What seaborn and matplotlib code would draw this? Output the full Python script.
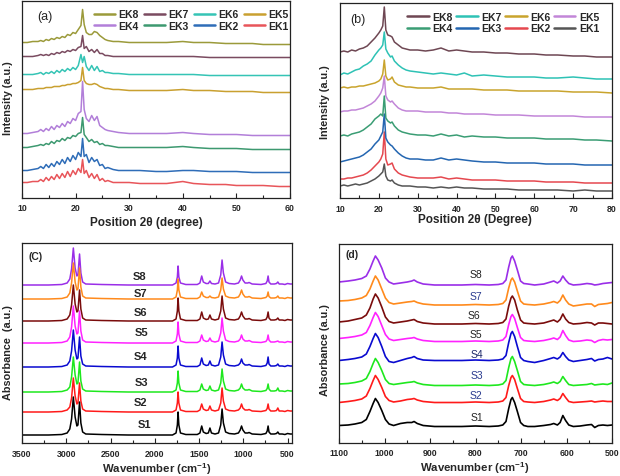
import numpy as np
import pandas as pd
import matplotlib
matplotlib.use("Agg")
import matplotlib.pyplot as plt
import seaborn as sns
from matplotlib.ticker import MultipleLocator
from matplotlib.lines import Line2D

# ---------------- data: panel (a) XRD ----------------
xrd_a_angle = [10, 11, 12, 13, 13.5, 14, 14.5, 15, 15.5, 16, 16.5, 17, 17.5, 18, 18.5, 19, 19.5, 20, 20.5, 21,
               21.3, 21.6, 22, 22.5, 23, 23.5, 24, 24.5, 25, 25.5, 26, 27, 28, 30, 32, 35, 37, 40, 42, 45, 48,
               50, 53, 55, 58, 60]
a_EK1 = [0, 0, 1, 1, 3, 1, 5, 2, 6, 3, 8, 4, 9, 5, 11, 6, 12, 8, 14, 10, 23, 9, 12, 5, 9, 4, 8, 2, 4, 1, 2, 0, 0, 0, -1, -1, -1, 1, -1, -2, -2, -3, -3, -3, -4, -4]
a_EK2 = [0, 0, 1, 2, 4, 2, 6, 3, 7, 4, 9, 6, 11, 7, 13, 9, 15, 11, 18, 14, 32, 14, 16, 8, 13, 9, 11, 5, 6, 2, 3, 1, 0, 0, 0, -1, -1, 0, 0, -1, -1, -1, -2, -2, -2, -2]
a_EK3 = [0, 0, 1, 2, 3, 2, 4, 3, 6, 4, 7, 6, 9, 7, 10, 9, 12, 11, 14, 15, 30, 13, 10, 6, 8, 5, 6, 3, 4, 2, 2, 1, 0, 0, 0, 0, 0, 1, 0, -1, -1, -1, -2, -2, -2, -2]
a_EK4 = [0, 0, 1, 2, 4, 2, 5, 3, 7, 4, 8, 6, 10, 7, 12, 10, 15, 13, 20, 22, 52, 24, 15, 12, 18, 13, 17, 8, 6, 4, 3, 2, 1, 0, 0, 0, 0, 1, 0, -1, -1, -1, -2, -2, -2, -2]
a_EK5 = [0, 0, 0, 1, 1, 1, 2, 2, 2, 3, 3, 3, 4, 4, 5, 5, 6, 6, 7, 9, 22, 9, 6, 5, 5, 6, 5, 3, 2, 1, 1, 0, 0, -1, -1, -1, -1, 0, -1, -1, -2, -2, -2, -3, -3, -3]
a_EK6 = [0, 0, 0, 1, 2, 0, 2, 1, 3, 1, 4, 2, 5, 3, 6, 4, 7, 5, 9, 20, 12, 18, 8, 4, 9, 4, 8, 3, 4, 2, 2, 1, 1, 0, 0, 0, 0, 0, 0, -1, -1, -1, -1, -1, -1, -1]
a_EK7 = [0, 0, 0, 1, 2, 1, 2, 1, 3, 2, 4, 3, 5, 4, 6, 5, 7, 6, 9, 10, 21, 8, 10, 5, 7, 4, 7, 3, 3, 1, 1, 0, 0, 0, 0, 0, 0, 0, 0, -1, -1, -1, -1, -1, -1, -1]
a_EK8 = [0, 0, 1, 1, 2, 1, 3, 2, 4, 3, 5, 4, 6, 5, 8, 7, 10, 9, 13, 17, 33, 18, 10, 8, 8, 11, 10, 7, 5, 3, 2, 1, 1, 0, 0, 0, 0, 1, 0, 0, -1, -1, -1, -2, -2, -2]
a_offsets = [15, 27, 50, 64, 108, 123, 141, 155]

# ---------------- data: panel (b) XRD ----------------
xrd_b_angle = [10, 11, 12, 13, 14, 15, 16, 17, 18, 19, 20, 20.5, 21, 21.4, 21.8, 22.3, 23, 23.4, 24, 25, 26, 27,
               28, 30, 32, 34, 36, 38, 40, 42, 44, 47, 50, 53, 56, 60, 63, 66, 70, 73, 76, 80]
b_EK1 = [0, 1, 0, 1, 2, 1, 2, 3, 5, 7, 10, 12, 14, 22, 10, 6, 5, 6, 3, 1, 0, 0, 0, -1, -1, -2, -1, -2, -1, -2, -2, -3, -3, -3, -4, -4, -4, -4, -5, -4, -5, -5]
b_EK2 = [0, 0, 1, 1, 2, 3, 4, 6, 9, 13, 17, 20, 25, 47, 20, 14, 15, 16, 10, 6, 4, 3, 2, 1, 1, 1, 2, 0, 1, 0, -1, -1, -1, -2, -2, -2, -3, -3, -3, -4, -4, -4]
b_EK3 = [0, 1, 2, 3, 4, 5, 7, 10, 13, 18, 22, 26, 30, 48, 24, 20, 17, 16, 13, 9, 6, 4, 3, 3, 2, 2, 4, 2, 3, 2, 1, 0, 0, -1, -1, -1, -2, -2, -2, -3, -3, -3]
b_EK4 = [0, 1, 0, 2, 3, 4, 6, 9, 12, 17, 20, 22, 20, 40, 18, 15, 13, 14, 10, 6, 4, 3, 2, 1, 1, 0, 2, 0, 1, -1, 0, -1, -1, -2, -2, -2, -3, -3, -3, -4, -4, -5]
b_EK5 = [0, 1, 1, 2, 2, 3, 4, 6, 8, 11, 16, 19, 24, 36, 16, 12, 10, 11, 8, 4, 2, 1, 1, 1, 0, 0, 0, -1, -1, -2, -2, -2, -3, -3, -3, -4, -4, -4, -4, -5, -5, -5]
b_EK6 = [0, 1, 0, 1, 1, 2, 2, 3, 4, 5, 7, 9, 14, 28, 12, 8, 9, 11, 6, 3, 2, 1, 1, 0, 0, 0, 1, -1, -1, -1, -1, -2, -2, -2, -3, -3, -3, -3, -4, -4, -4, -5]
b_EK7 = [0, 2, 1, 3, 5, 6, 9, 11, 14, 20, 25, 27, 30, 43, 26, 22, 18, 19, 14, 10, 7, 5, 4, 3, 2, 1, 2, 1, 0, 2, -1, 0, -1, -2, -2, -2, -3, -3, -2, -3, -4, -4]
b_EK8 = [0, 1, 0, 2, 1, 3, 4, 6, 10, 14, 19, 22, 26, 45, 22, 17, 16, 15, 10, 7, 4, 3, 2, 2, 1, 2, 4, 1, 2, 1, 0, 0, -1, -1, -2, -2, -3, -3, -4, -4, -5, -5]
b_offsets = [12, 19, 36, 62, 86, 110, 123, 146]

# ---------------- data: panel (c) FTIR ----------------
ftir_c_wn = [3500, 3200, 3050, 2990, 2960, 2940, 2920, 2900, 2880, 2868, 2850, 2835, 2815, 2780, 2600, 2300, 2000,
             1800, 1760, 1745, 1737, 1728, 1710, 1650, 1520, 1490, 1470, 1452, 1420, 1395, 1377, 1360, 1320, 1280,
             1255, 1240, 1225, 1200, 1160, 1100, 1055, 1035, 1020, 1005, 980, 950, 935, 900, 800, 745, 730, 720,
             710, 690, 650, 625, 610, 595, 560, 530, 500, 470, 450]
c_S1 = [0, 0, 0.5, 2, 6, 16, 38, 18, 9, 10, 33, 12, 3, 1, 0.5, 0, 0, 0, 2, 10, 23, 10, 2, 0.5, 0.5, 2, 9, 3, 1.5, 2, 7, 2, 1, 2, 10, 26, 12, 3, 1.5, 1, 2, 5, 9, 5, 2, 2, 2.5, 1, 0.5, 1.5, 4, 9, 3, 1, 1, 1.5, 3, 1, 1, 0.5, 1.5, 1, 1]
c_S2 = [0, 0, 0.5, 2, 5, 14, 34, 16, 8, 9, 29, 11, 3, 1, 0.5, 0, 0, 0, 2, 9, 20, 9, 2, 0.5, 0.5, 2, 8, 3, 1.5, 2, 6, 2, 1, 2, 9, 24, 11, 3, 1.5, 1, 2, 4, 8, 4, 2, 2, 2.5, 1, 0.5, 1.5, 3.5, 8, 3, 1, 1, 1.5, 4, 1, 1, 0.5, 1.5, 1, 1]
c_S3 = [0, 0, 0.5, 2, 5, 15, 35, 17, 8, 9, 30, 11, 3, 1, 0.5, 0, 0, 0, 2, 9, 21, 9, 2, 0.5, 0.5, 2, 8, 3, 1.5, 2, 6, 2, 1, 2, 9, 23, 11, 3, 1.5, 1, 2, 4, 8, 4, 2, 2, 2.5, 1, 0.5, 1.5, 3.5, 8, 3, 1, 1, 1.5, 4, 1, 1, 0.5, 1.5, 1, 1]
c_S4 = [0, 0, 0.5, 2, 6, 16, 37, 17, 8, 9, 30, 11, 3, 1, 0.5, 0, 0, 0, 2, 9, 21, 9, 2, 0.5, 0.5, 2, 9, 3, 1.5, 2, 6, 2, 1, 2, 10, 25, 12, 3, 1.5, 1, 2, 4, 8, 4, 2, 2, 2.5, 1, 0.5, 1.5, 4, 10, 3, 1, 1, 1.5, 3, 1, 1, 0.5, 1.5, 1, 1]
c_S5 = [0, 0, 0.5, 2, 6, 16, 37, 17, 9, 10, 32, 12, 3, 1, 0.5, 0, 0, 0, 2, 9, 21, 9, 2, 0.5, 0.5, 2, 8, 3, 1.5, 2, 5, 2, 1, 2, 10, 25, 12, 3, 1.5, 1, 2, 4, 8, 4, 2, 2, 2.5, 1, 0.5, 1.5, 3.5, 8, 3, 1, 1, 1.5, 2, 1, 1, 0.5, 1.5, 1, 1]
c_S6 = [0, 0, 0.5, 2, 6, 16, 36, 17, 9, 10, 31, 12, 3, 1, 0.5, 0, 0, 0, 2, 10, 23, 10, 2, 0.5, 0.5, 2, 9, 3, 1.5, 2, 6, 2, 1, 2, 10, 25, 12, 3, 1.5, 1, 2, 5, 9, 5, 2, 2, 2.5, 1, 0.5, 1.5, 4, 9, 3, 1, 1, 1.5, 3, 1, 1, 0.5, 1.5, 1, 1]
c_S7 = [0, 0, 0.5, 2, 6, 16, 36, 17, 9, 10, 31, 12, 3, 1, 0.5, 0, 0, 0, 2, 9, 20, 9, 2, 0.5, 0.5, 2, 7, 3, 1.5, 1.5, 3, 1.5, 1, 2, 9, 21, 10, 3, 1.5, 1, 2, 5, 9, 5, 2, 2, 2.5, 1, 0.5, 1.5, 3, 7, 2.5, 1, 1, 1.5, 3, 1, 1, 0.5, 1.5, 1, 1]
c_S8 = [0, 0, 0.5, 2, 6, 16, 37, 17, 9, 10, 31, 12, 3, 1, 0.5, 0, 0, 0, 2, 8, 19, 8, 2, 0.5, 0.5, 2, 9, 3, 1.5, 1.5, 4, 1.5, 1, 2, 10, 25, 12, 3, 1.5, 1, 2, 5, 9, 5, 2, 2, 2.5, 1, 0.5, 1.5, 4, 9, 3, 1, 1, 1.5, 3, 1, 1, 0.5, 1.5, 1, 1]
c_offsets = [8, 31, 51, 76, 100, 122, 144, 158]
c_label_wn = [2120, 2165, 2155, 2165, 2150, 2160, 2160, 2170]
c_label_y = [18.5, 41.5, 60.7, 87.3, 111, 130.7, 150, 167.3]

# ---------------- data: panel (d) FTIR detail ----------------
ftir_d_wn = [1100, 1080, 1065, 1050, 1040, 1032, 1025, 1020, 1014, 1006, 998, 990, 980, 965, 950, 940, 935, 928, 915,
             890, 860, 830, 800, 770, 750, 740, 733, 727, 722, 719, 714, 708, 701, 694, 685, 670, 650, 635, 628, 620,
             614, 608, 602, 595, 585, 570, 555, 545, 538, 530, 520, 510, 500]
d_S1 = [1, 1.5, 2.5, 4, 7, 15, 23, 28, 24, 16, 7, 2.5, 1, 3, 4, 4, 5, 3, 1, 0, 0, 0, 0.5, 0, 0.5, 1.5, 5, 18, 27, 29, 24, 15, 4, 1, 0, 0, 1, 2, 3, 1.5, 4, 11, 6, 1.5, 0, 0.5, 1.5, 2, -1, 1, 1.5, 1, 1.5]
d_S2 = [0, 1, 2, 3.5, 6.5, 14, 22, 27, 23, 15, 6, 2, 0.5, 1.5, 3, 3.5, 4, 2.5, 1, 0, 0, 0, 0.5, 0, 0.5, 1.5, 5, 17, 25, 27, 23, 14, 4, 1, 0.5, 0, 1, 2.5, 3.5, 2, 4, 9, 5, 1, 0, 0.5, 1, 1.5, 0.5, 1, 1.5, 1, 1]
d_S3 = [1.5, 2, 3, 4.5, 7, 14, 22, 27, 23, 15, 6, 2, 1, 2, 3, 3.5, 4, 2.5, 1, 0, 0, 0, 0.5, 0, 0.5, 1.5, 5, 18, 27, 29, 24, 15, 4, 1, 0.5, 0, 1, 2.5, 3.5, 2, 4, 9, 5, 1, 0, 0.5, 1, 2, 0.5, 1, 1.5, 1, 2.5]
d_S4 = [0, 1, 2, 3.5, 6.5, 14, 22, 27, 23, 14, 4, -1, -2, 0, 2, 3, 4, 2, 0.5, 0, 0, 0, 0.5, 0, 0.5, 1.5, 5, 18, 27, 29, 24, 14, 3, 0, -1, -2, 0, 2, 3, 1.5, 3.5, 8, 4, 0.5, -1, 0, 1, 2, -0.5, 1, 1.5, 3, 1.5]
d_S5 = [3, 4, 5, 6.5, 9, 16, 24, 29, 25, 16, 7, 2.5, 1, 2, 3, 3.5, 4, 2.5, 1, 0, 0, 0, 0.5, 0, 0.5, 1.5, 5, 17, 25, 27, 23, 14, 4, 1, 0.5, 0, 1, 2.5, 3.5, 2, 4.5, 11, 6, 1.5, 0, 0.5, 1.5, 1, -1, 1, 2, 1.5, 2]
d_S6 = [2, 3, 4.5, 6, 9, 16, 25, 30, 26, 17, 7, 2.5, 1, 2, 3, 4, 4.5, 2.5, 1, 0, 0, 0, 0.5, 0, 0.5, 1.5, 5, 18, 26, 28, 24, 14, 4, 1, 0.5, 0, 1, 3, 4, 2, 4.5, 10, 5, 1.5, 0, 0.5, 1.5, 1, -1, 1, 1, 0.5, 0]
d_S7 = [4, 4.5, 5.5, 7, 9.5, 16, 24, 29, 25, 16, 7, 2.5, 1, 2, 3, 3.5, 4, 2.5, 1, 0, 0, 0, 0.5, 0, 0.5, 1.5, 5, 17, 25, 27, 23, 14, 4, 1, 0.5, 0, 1, 2.5, 3.5, 2, 4.5, 10, 5, 1, -1, 0, 1, 1, -1.5, 0.5, 1, 1.5, 2.5]
d_S8 = [3, 4, 5, 6.5, 9, 16, 24, 29, 25, 17, 7, 3, 1, 2, 3, 4, 5, 3, 1, 0, 0, 0, 0.5, 0, 0.5, 1.5, 5, 18, 27, 29, 24, 15, 4, 1.5, 1, 0, 1, 3, 4, 2, 4, 9, 5, 1.5, 0, 0.5, 1.5, 1, 0, 0.5, 1.5, 2, 2.5]
d_offsets = [16, 40, 57, 82, 101, 118.5, 137.5, 157.5]
d_label_wn = [797, 800, 797, 797, 800, 803, 800, 800]
d_label_y = [25.2, 47.7, 67.8, 88.5, 108.5, 127.5, 146.8, 168.5]

ek_names = ["EK1", "EK2", "EK3", "EK4", "EK5", "EK6", "EK7", "EK8"]
s_names = ["S1", "S2", "S3", "S4", "S5", "S6", "S7", "S8"]

pal_a = ["#e8555a", "#2f6db8", "#3d9970", "#b27fd9", "#c9a030", "#35c4b5", "#7a4b60", "#9b9a3a"]
pal_b = ["#555555", "#e5484f", "#2466b1", "#3a9d74", "#c286d8", "#c9a42d", "#2ec2b5", "#6e4753"]
pal_s = ["#000000", "#ff1a1a", "#1ee81e", "#0a0ad0", "#ff22ff", "#7a0c0c", "#ff8a1c", "#9a2ee8"]
d_label_colors = ["#222222", "#2a3b8f", "#2a3b8f", "#1f2a6b", "#222222", "#222222", "#2a3b8f", "#222222"]

# ---------------- style ----------------
sns.set_style("white")
plt.rcParams["font.family"] = ["Liberation Sans", "DejaVu Sans"]
plt.rcParams["font.weight"] = "bold"
plt.rcParams["mathtext.fontset"] = "custom"
plt.rcParams["mathtext.rm"] = "Liberation Sans"
plt.rcParams["mathtext.bf"] = "Liberation Sans:bold"

fig = plt.figure(figsize=(6.2, 4.77), dpi=100)
fig.patch.set_facecolor("white")


def px_axes(l, t, r, b):
    return fig.add_axes([l / 620, 1 - b / 477, (r - l) / 620, (b - t) / 477])


axA = px_axes(22, 2, 290, 198.5)
axB = px_axes(340, 4, 612, 199)
axC = px_axes(22, 244, 292, 444)
axD = px_axes(339, 245, 612, 443.5)


def long_df(x, series, offsets, names, xname, yname):
    frames = []
    for vals, off, name in zip(series, offsets, names):
        frames.append(pd.DataFrame({xname: x, yname: np.asarray(vals, float) + off, "sample": name}))
    return pd.concat(frames, ignore_index=True)


def style(ax, xlim, ylim, major, minor):
    ax.set_xlim(*xlim)
    ax.set_ylim(*ylim)
    ax.xaxis.set_major_locator(MultipleLocator(major))
    ax.xaxis.set_minor_locator(MultipleLocator(minor))
    ax.set_yticks([])
    ax.tick_params(axis="x", which="both", direction="in", bottom=True, top=False,
                   labelsize=6.3, pad=4, width=0.8, color="#222222")
    ax.tick_params(axis="x", which="major", length=3.5)
    ax.tick_params(axis="x", which="minor", length=2)
    for sp in ax.spines.values():
        sp.set_linewidth(0.9)
        sp.set_color("#222222")


# panel (a)
dfA = long_df(xrd_a_angle, [a_EK1, a_EK2, a_EK3, a_EK4, a_EK5, a_EK6, a_EK7, a_EK8], a_offsets, ek_names,
              "angle", "intensity")
sns.lineplot(data=dfA, x="angle", y="intensity", hue="sample", hue_order=ek_names,
             palette=dict(zip(ek_names, pal_a)), estimator=None, lw=1.1, legend=False, ax=axA)
style(axA, (10, 60), (0, 196.5), 10, 5)

# panel (b)
dfB = long_df(xrd_b_angle, [b_EK1, b_EK2, b_EK3, b_EK4, b_EK5, b_EK6, b_EK7, b_EK8], b_offsets, ek_names,
              "angle", "intensity")
sns.lineplot(data=dfB, x="angle", y="intensity", hue="sample", hue_order=ek_names,
             palette=dict(zip(ek_names, pal_b)), estimator=None, lw=1.1, legend=False, ax=axB)
style(axB, (10, 80), (0, 195), 10, 5)

# panel (c)
dfC = long_df(ftir_c_wn, [c_S1, c_S2, c_S3, c_S4, c_S5, c_S6, c_S7, c_S8], c_offsets, s_names,
              "wn", "absorbance")
sns.lineplot(data=dfC, x="wn", y="absorbance", hue="sample", hue_order=s_names[::-1],
             palette=dict(zip(s_names, pal_s)), estimator=None, lw=1.1, legend=False, ax=axC)
style(axC, (3500, 450), (0, 200), 500, 250)

# panel (d)
dfD = long_df(ftir_d_wn, [d_S1, d_S2, d_S3, d_S4, d_S5, d_S6, d_S7, d_S8], d_offsets, s_names,
              "wn", "absorbance")
sns.lineplot(data=dfD, x="wn", y="absorbance", hue="sample", hue_order=s_names[::-1],
             palette=dict(zip(s_names, pal_s)), estimator=None, lw=1.2, legend=False, ax=axD)
style(axD, (1100, 500), (0, 198.5), 100, 50)

# legends
order = ["EK8", "EK4", "EK7", "EK3", "EK6", "EK2", "EK5", "EK1"]
colA = dict(zip(ek_names, pal_a))
colB = dict(zip(ek_names, pal_b))
axA.legend(handles=[Line2D([], [], color=colA[n], lw=1.8) for n in order], labels=order, ncol=4,
           loc="upper left", bbox_to_anchor=(0.269, 0.958), frameon=False, fontsize=7.5,
           handlelength=2.0, handletextpad=0.3, columnspacing=0.55, labelspacing=0.15,
           borderpad=0, borderaxespad=0)
axB.legend(handles=[Line2D([], [], color=colB[n], lw=1.8) for n in order], labels=order, ncol=4,
           loc="upper left", bbox_to_anchor=(0.245, 0.955), frameon=False, fontsize=7.5,
           handlelength=2.1, handletextpad=0.4, columnspacing=0.25, labelspacing=0.15,
           borderpad=0, borderaxespad=0)

# sample labels
for name, wn, yv in zip(s_names, c_label_wn, c_label_y):
    axC.text(wn, yv, name, ha="center", va="center", fontsize=8, fontweight="bold")
for name, wn, yv, col in zip(s_names, d_label_wn, d_label_y, d_label_colors):
    axD.text(wn, yv, name, ha="center", va="center", fontsize=7.5, fontweight="normal", color=col)

# panel tags
axA.text(0.084, 0.924, "(a)", transform=axA.transAxes, ha="center", va="center", fontsize=9, fontweight="normal")
axB.text(0.064, 0.918, "(b)", transform=axB.transAxes, ha="center", va="center", fontsize=9, fontweight="normal")
axC.text(0.05, 0.935, "(C)", transform=axC.transAxes, ha="center", va="center", fontsize=7.5, fontweight="bold")
axD.text(0.048, 0.95, "(d)", transform=axD.transAxes, ha="center", va="center", fontsize=7.5, fontweight="bold")

# axis labels
axA.set_xlabel("Position 2θ (degree)", fontsize=8.5, fontweight="bold")
axA.set_ylabel("Intensity (a.u.)", fontsize=7.8, fontweight="bold")
axA.xaxis.set_label_coords(0.464, -0.093)
axA.yaxis.set_label_coords(-0.034, 0.51)

axB.set_xlabel("Position 2θ (Degree)", fontsize=8.5, fontweight="bold")
axB.set_ylabel("Intensity (a.u.)", fontsize=7.8, fontweight="bold")
axB.xaxis.set_label_coords(0.496, -0.077)
axB.yaxis.set_label_coords(-0.038, 0.499)

axC.set_xlabel(r"Wavenumber (cm$^{\mathbf{-1}}$)", fontsize=8.2, fontweight="bold")
axC.set_ylabel("Absorbance  (a.u.)", fontsize=7.8, fontweight="bold")
axC.xaxis.set_label_coords(0.499, -0.084)
axC.yaxis.set_label_coords(-0.033, 0.457)

axD.set_xlabel(r"Wavenumber (cm$^{\mathbf{-1}}$)", fontsize=8.2, fontweight="bold")
axD.set_ylabel("Absorbance (a.u.)", fontsize=7.8, fontweight="bold")
axD.xaxis.set_label_coords(0.498, -0.082)
axD.yaxis.set_label_coords(-0.034, 0.471)

fig.savefig("out.png", dpi=100, facecolor="white")
